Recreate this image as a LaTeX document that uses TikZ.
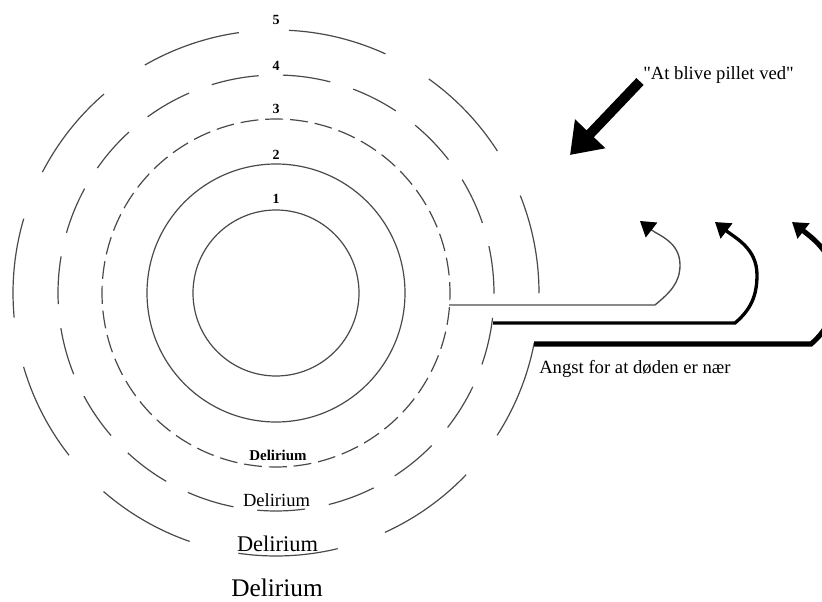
\documentclass[tikz,border=0pt]{standalone}
\usepackage{fontspec}
\setmainfont{Liberation Serif}[Ligatures=TeXOff]
\usetikzlibrary{arrows.meta}
\definecolor{ringgray}{HTML}{4A4A4A}
\begin{document}
\begin{tikzpicture}[x=0.75pt,y=0.75pt,
  ring/.style={draw=ringgray, line width=0.9pt},
  digit/.style={font=\fontsize{10.5}{12}\selectfont\bfseries, inner sep=0pt},
  tag/.style={font=\fontsize{14}{16}\selectfont, inner sep=0pt, anchor=base west},
  delir/.style={inner sep=0pt, anchor=base},
  tip/.style={-{Triangle[length=11pt,width=14pt,color=black]}},
  thinarrow/.style={tip, draw=ringgray, line width=1pt},
  midarrow/.style={tip, draw=black, line width=2.5pt},
  thickarrow/.style={tip, draw=black, line width=3.8pt},
  bigarrow/.style={draw=black, line width=7.5pt, -{Triangle[length=22pt,width=30pt]}}]
\useasboundingbox (0,0) rectangle (822,601);
\clip (0,0) rectangle (822,601);

% common centre of the rings
\coordinate (C) at (276,308);

% rings 1 and 2: solid
\draw[ring] (C) circle[radius=83];
\draw[ring] (C) circle[radius=129];

% ring 3: short dashes
\foreach \k in {0,...,43} {
  \pgfmathsetmacro\a{87.65+\k*360/44}
  \draw[ring] (C) ++(\a:174) arc[start angle=\a, delta angle=5.9, radius=174];
}
% ring 4: medium dashes
\foreach \k in {0,...,18} {
  \pgfmathsetmacro\a{75.6+\k*360/19}
  \draw[ring] (C) ++(\a:218) arc[start angle=\a, delta angle=12.6, radius=218];
}
% ring 5: long dashes
\foreach \k in {0,...,10} {
  \pgfmathsetmacro\a{65.4+\k*360/11}
  \draw[ring] (C) ++(\a:263) arc[start angle=\a, delta angle=21.8, radius=263];
}

% ring numbers
\node[digit] (n1) at (276,402) {1};
\node[digit] (n2) at (276,446) {2};
\node[digit] (n3) at (276,492) {3};
\node[digit] (n4) at (276,535) {4};
\node[digit] (n5) at (276,581) {5};

% labels along the bottom of the rings
\node[delir, font=\fontsize{11.2}{13}\selectfont\bfseries] (d1) at (278,141) {Delirium};
\node[delir, font=\fontsize{13.9}{16}\selectfont] (d2) at (276.5,95) {Delirium};
\node[delir, font=\fontsize{16.8}{19}\selectfont] (d3) at (277.5,50) {Delirium};
\node[delir, font=\fontsize{19}{22}\selectfont] (d4) at (277,5) {Delirium};

% heavy arrow pointing in towards the rings
\node[tag] (pillet) at (643,521) {"At blive pillet ved"};
\coordinate (bt) at (640,519.5);
\coordinate (bh) at (570,446);
\draw[bigarrow] (bt) -- (bh);

% arrows leaving rings 3, 4 and 5
\coordinate (s1) at (449,296);
\coordinate (s2) at (493,278);
\coordinate (s3) at (534,257);
\coordinate (t1) at (640,380);
\coordinate (t2) at (715,379);
\coordinate (t3) at (792,379);
\draw[thinarrow] (s1) -- (655,296) to[out=40,in=-90] (680,336) to[out=90,in=-38] (t1);
\draw[midarrow] (s2) -- (735,278) to[out=40,in=-90] (757,326) to[out=90,in=-38] (t2);
\draw[thickarrow] (s3) -- (811,257) to[out=40,in=-90] (835,316) to[out=90,in=-38] (t3);

\node[tag] (angst) at (539,228) {Angst for at døden er nær};
\end{tikzpicture}
\end{document}
